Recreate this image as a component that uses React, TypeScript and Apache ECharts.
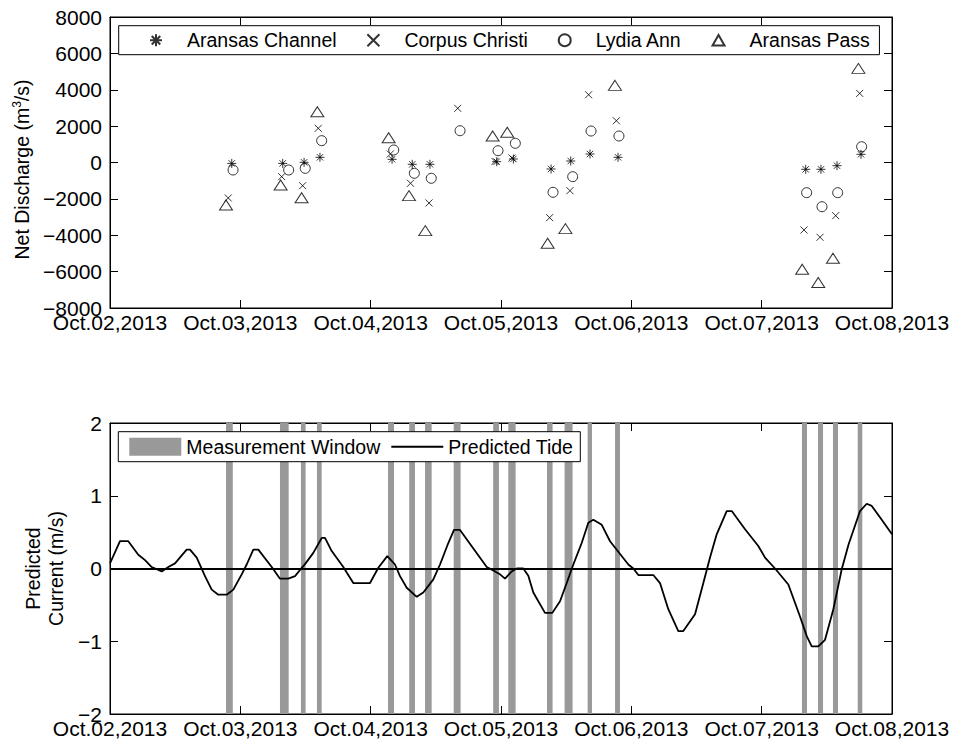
import React, { useEffect, useRef } from "react";
import * as echarts from "echarts";

const HOUR_MS = 3600000;
const DAY_MS = 86400000;
const START = Date.UTC(2013, 9, 2);
const END = Date.UTC(2013, 9, 8);

// Tick labels along the shared time axis (one per day)
const dayLabels = [
  "Oct.02,2013",
  "Oct.03,2013",
  "Oct.04,2013",
  "Oct.05,2013",
  "Oct.06,2013",
  "Oct.07,2013",
  "Oct.08,2013",
];

// Transect times (hours after Oct.02 00:00) and net discharge (m^3/s)
const channelHours = [22.42, 31.8, 35.74, 38.66, 51.94, 55.66, 58.92, 71.21, 74.28, 81.22, 84.84, 88.39, 93.55, 128.11, 130.92, 133.87, 138.29];
const channelFlow = [-50, -50, 10, 285, 176, -99, -99, 44, 192, -357, 82, 467, 285, -375, -375, -176, 450];

const corpusHours = [21.77, 31.61, 35.47, 38.35, 51.62, 55.34, 58.75, 64.03, 70.9, 74.02, 80.95, 84.7, 88.13, 93.24, 127.8, 130.75, 133.63, 138.05];
const corpusFlow = [-1950, -780, -1275, 1880, 467, -1143, -2225, 2978, 60, 250, -3033, -1550, 3726, 2297, -3709, -4110, -2923, 3800];

const lydiaHours = [22.66, 32.9, 35.95, 38.98, 52.25, 56.04, 59.16, 64.46, 71.45, 74.64, 81.58, 85.2, 88.58, 93.72, 128.28, 131.11, 134.0, 138.41];
const lydiaFlow = [-412, -412, -320, 1200, 687, -594, -868, 1748, 648, 1055, -1638, -780, 1731, 1456, -1660, -2430, -1660, 868];

const passHours = [21.36, 31.42, 35.28, 38.18, 51.31, 55.06, 58.06, 70.46, 73.15, 80.59, 83.86, 92.98, 127.46, 130.42, 133.13, 137.81];
const passFlow = [-2335, -1236, -1935, 2790, 1363, -1824, -3747, 1456, 1660, -4440, -3637, 4242, -5870, -6600, -5264, 5176];

// Measurement windows (hours after Oct.02 00:00)
const windowStartHours = [21.36, 31.3, 35.16, 38.11, 51.19, 55.1, 58.01, 63.29, 70.56, 73.34, 80.47, 83.71, 87.96, 93.0, 127.42, 130.37, 133.13, 137.69];
const windowEndHours = [22.61, 32.9, 36.02, 38.98, 52.3, 56.16, 59.23, 64.56, 71.62, 74.69, 81.5, 85.18, 88.75, 93.91, 128.35, 131.3, 134.06, 138.53];

// Predicted tidal current (m/s)
const tideHours = [
  0, 1.84, 3.37, 5.21, 6.45, 7.68, 9.52, 10.74, 11.97, 14.12, 14.73, 15.97, 17.49, 18.73, 19.94, 21.49, 22.71,
  24.25, 25.17, 26.39, 27.31, 29.78, 31.31, 32.83, 34.07, 34.99, 35.91, 37.44, 38.98, 39.59, 40.83, 42.96, 44.8,
  47.88, 49.41, 51.06, 52.48, 53.4, 54.64, 56.48, 57.69, 59.54, 60.77, 62.3, 63.35, 64.45, 69.37, 70.9, 71.82,
  72.74, 73.97, 74.89, 76.11, 77.03, 77.95, 80.1, 81.45, 82.87, 84.1, 85.32, 86.86, 88.08, 89.0, 90.55, 92.08,
  95.45, 96.37, 97.29, 100.05, 101.28, 102.81, 104.65, 105.57, 107.73, 109.26, 110.49, 111.72, 113.56, 114.49,
  116.94, 119.38, 120.62, 122.46, 124.91, 127.06, 128.3, 129.22, 130.43, 131.67, 133.2, 134.74, 136.0, 138.11,
  139.35, 140.27, 142.11, 144.0,
];
const tideValues = [
  0.07, 0.375, 0.375, 0.19, 0.115, 0.02, -0.04, 0.02, 0.07, 0.26, 0.26, 0.15, -0.105, -0.29, -0.36, -0.36, -0.29,
  -0.08, 0.055, 0.26, 0.26, 0.02, -0.14, -0.14, -0.105, -0.02, 0.06, 0.215, 0.42, 0.42, 0.24, 0.02, -0.2,
  -0.2, 0.01, 0.17, 0.055, -0.105, -0.265, -0.39, -0.33, -0.15, 0.055, 0.35, 0.53, 0.53, 0.02, -0.04, -0.08,
  -0.14, -0.04, 0, 0, -0.1, -0.33, -0.61, -0.61, -0.45, -0.2, 0.055, 0.35, 0.63, 0.67, 0.6, 0.375,
  0.055, 0, -0.09, -0.09, -0.2, -0.56, -0.86, -0.86, -0.63, -0.2, 0.15, 0.47, 0.79, 0.79,
  0.54, 0.31, 0.15, 0, -0.22, -0.66, -0.93, -1.07, -1.07, -0.98, -0.56, -0.01, 0.33, 0.79,
  0.89, 0.86, 0.67, 0.47,
];

const FLOW_MIN = -8000;
const FLOW_MAX = 8000;
const FLOW_STEP = 2000;
const CURRENT_MIN = -2;
const CURRENT_MAX = 2;
const CURRENT_STEP = 1;

const FONT = "'Liberation Sans', Arial, Helvetica, sans-serif";
const FS = 19.5;
const TICK_FS = 21;
const GRAY = "#999999";

const ASTERISK = "path://M0,5L10,5M5,0L5,10M1.46,1.46L8.54,8.54M1.46,8.54L8.54,1.46";
const CROSS = "path://M0,0L10,10M0,10L10,0";
const TRIANGLE = "path://M5,0L10,8.66L0,8.66Z";

const toMs = (h: number) => START + h * HOUR_MS;
const pairs = (hours: number[], vals: number[]) => hours.map((h, i) => [toMs(h), vals[i]]);
const minus = (v: number) => String(v).replace("-", "\u2212");
const dayFormatter = (v: number) => dayLabels[Math.round((v - START) / DAY_MS)] ?? "";

const hollow = { color: "transparent", borderColor: "#000", borderWidth: 1 };

function xAxis(gridIndex: number, position: "top" | "bottom", labels: boolean) {
  return {
    type: "value",
    gridIndex,
    position,
    min: START,
    max: END,
    interval: DAY_MS,
    axisLine: { show: true, onZero: false, lineStyle: { color: "#000", width: 1 } },
    axisTick: { show: true, inside: true, length: 8, lineStyle: { color: "#000", width: 1 } },
    axisLabel: {
      show: labels,
      formatter: dayFormatter,
      color: "#000",
      fontFamily: FONT,
      fontSize: TICK_FS,
      margin: 4,
      showMinLabel: true,
      showMaxLabel: true,
    },
    splitLine: { show: false },
  };
}

function yAxis(gridIndex: number, position: "left" | "right", min: number, max: number, step: number, labels: boolean, extra: any = {}) {
  return {
    type: "value",
    gridIndex,
    position,
    min,
    max,
    interval: step,
    axisLine: { show: true, onZero: false, lineStyle: { color: "#000", width: 1 } },
    axisTick: { show: true, inside: true, length: 8, lineStyle: { color: "#000", width: 1 } },
    axisLabel: {
      show: labels,
      formatter: minus,
      color: "#000",
      fontFamily: FONT,
      fontSize: TICK_FS,
      margin: 8,
      showMinLabel: true,
      showMaxLabel: true,
    },
    splitLine: { show: false },
    ...extra,
  };
}

export default function App() {
  const ref = useRef<HTMLDivElement>(null);

  useEffect(() => {
    if (!ref.current) return;
    const chart = echarts.init(ref.current, undefined, { renderer: "svg" });

    const windows = windowStartHours.map((s, i) => [toMs(s), toMs(windowEndHours[i])]);

    chart.setOption({
      animation: false,
      backgroundColor: "#fff",
      textStyle: { fontFamily: FONT, color: "#000" },
      grid: [
        { left: 110, top: 17, width: 782, height: 291, show: true, borderColor: "#000", borderWidth: 1, backgroundColor: "transparent" },
        { left: 110, top: 423, width: 782, height: 291, show: true, borderColor: "#000", borderWidth: 1, backgroundColor: "transparent" },
      ],
      legend: [
        {
          left: 118.7,
          top: 25.7,
          orient: "horizontal",
          padding: [4.5, 9.6, 4.5, 30.3],
          itemWidth: 12,
          itemHeight: 12,
          itemGap: 29.8,
          symbolKeepAspect: true,
          borderColor: "#000",
          borderWidth: 1,
          backgroundColor: "#fff",
          textStyle: { fontFamily: FONT, fontSize: FS, color: "#000", padding: [0, 0, 0, 20] },
          data: [
            { name: "Aransas Channel", icon: ASTERISK },
            { name: "Corpus Christi", icon: CROSS },
            { name: "Lydia Ann", icon: "circle" },
            { name: "Aransas Pass", icon: TRIANGLE },
          ],
        },
        {
          left: 118.3,
          top: 431.7,
          orient: "horizontal",
          padding: [5, 7, 5, 11],
          itemWidth: 52,
          itemHeight: 18,
          itemGap: 10,
          borderColor: "#000",
          borderWidth: 1,
          backgroundColor: "#fff",
          textStyle: { fontFamily: FONT, fontSize: FS, color: "#000" },
          data: [
            { name: "Measurement Window", icon: "rect", itemStyle: { color: GRAY, borderWidth: 0 } },
            { name: "Predicted Tide", itemStyle: { color: "transparent", borderColor: "transparent", borderWidth: 0 } },
          ],
        },
      ],
      xAxis: [xAxis(0, "bottom", true), xAxis(0, "top", false), xAxis(1, "bottom", true), xAxis(1, "top", false)],
      yAxis: [
        yAxis(0, "left", FLOW_MIN, FLOW_MAX, FLOW_STEP, true, {
          name: "Net Discharge (m{sup|3}/s)",
          nameLocation: "middle",
          nameGap: 76,
          nameTextStyle: {
            fontFamily: FONT,
            fontSize: FS,
            color: "#000",
            padding: [0, 14, 0, 0],
            rich: { sup: { fontFamily: FONT, fontSize: 12, color: "#000", verticalAlign: "top", lineHeight: 22 } },
          },
        }),
        yAxis(0, "right", FLOW_MIN, FLOW_MAX, FLOW_STEP, false),
        yAxis(1, "left", CURRENT_MIN, CURRENT_MAX, CURRENT_STEP, true, {
          name: "Predicted\nCurrent (m/s)",
          nameLocation: "middle",
          nameGap: 40,
          nameTextStyle: { fontFamily: FONT, fontSize: FS, color: "#000", lineHeight: 23 },
        }),
        yAxis(1, "right", CURRENT_MIN, CURRENT_MAX, CURRENT_STEP, false),
      ],
      series: [
        {
          name: "Aransas Channel",
          type: "scatter",
          xAxisIndex: 0,
          yAxisIndex: 0,
          symbol: ASTERISK,
          symbolSize: 9,
          itemStyle: hollow,
          data: pairs(channelHours, channelFlow),
        },
        {
          name: "Corpus Christi",
          type: "scatter",
          xAxisIndex: 0,
          yAxisIndex: 0,
          symbol: CROSS,
          symbolSize: 7,
          itemStyle: hollow,
          data: pairs(corpusHours, corpusFlow),
        },
        {
          name: "Lydia Ann",
          type: "scatter",
          xAxisIndex: 0,
          yAxisIndex: 0,
          symbol: "circle",
          symbolSize: 10,
          itemStyle: hollow,
          data: pairs(lydiaHours, lydiaFlow),
        },
        {
          name: "Aransas Pass",
          type: "scatter",
          xAxisIndex: 0,
          yAxisIndex: 0,
          symbol: TRIANGLE,
          symbolSize: [13, 10],
          itemStyle: hollow,
          data: pairs(passHours, passFlow),
        },
        {
          name: "Measurement Window",
          type: "custom",
          xAxisIndex: 2,
          yAxisIndex: 2,
          z: 1,
          encode: { x: [0, 1] },
          itemStyle: { color: GRAY },
          data: windows,
          renderItem: (params: any, api: any) => {
            const a = api.coord([api.value(0), CURRENT_MAX]);
            const b = api.coord([api.value(1), CURRENT_MIN]);
            return {
              type: "rect",
              shape: { x: a[0], y: a[1], width: b[0] - a[0], height: b[1] - a[1] },
              style: { fill: GRAY },
            };
          },
        },
        {
          name: "Predicted Tide",
          type: "line",
          xAxisIndex: 2,
          yAxisIndex: 2,
          z: 3,
          symbol: "none",
          lineStyle: { color: "#000", width: 1.8 },
          itemStyle: { color: "#000" },
          data: pairs(tideHours, tideValues),
          markLine: {
            silent: true,
            symbol: "none",
            label: { show: false },
            lineStyle: { color: "#000", width: 2, type: "solid" },
            data: [{ yAxis: 0 }],
          },
        },
      ],
    });

    return () => chart.dispose();
  }, []);

  return <div ref={ref} style={{ position: "fixed", left: 0, top: 0, width: 956, height: 748 }} />;
}
